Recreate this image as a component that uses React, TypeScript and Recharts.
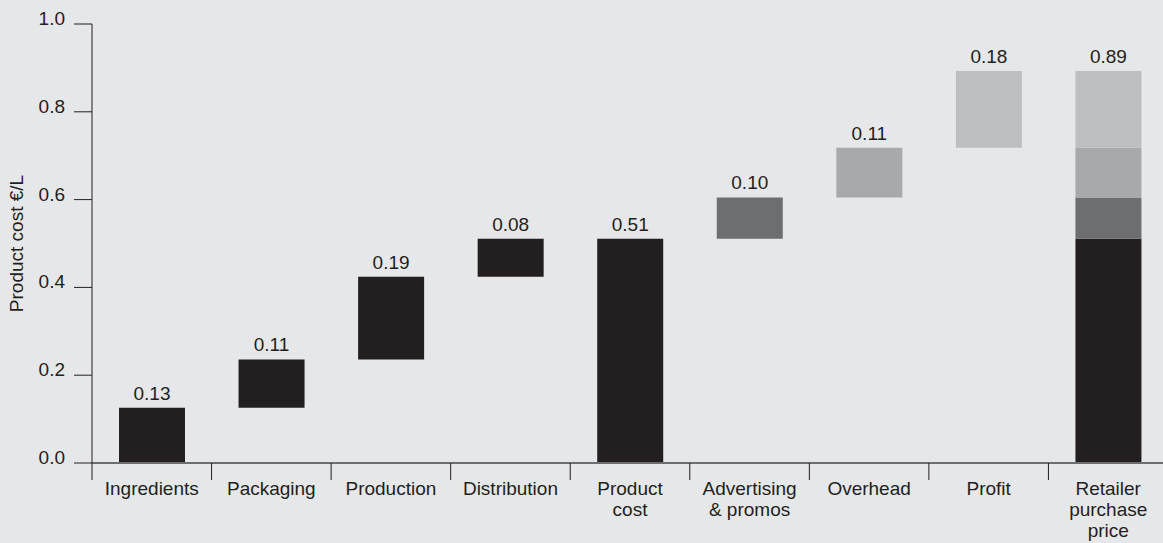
import React from 'react';
import { BarChart, Bar, XAxis, YAxis, Label, LabelList } from 'recharts';

const categoryLines = [
  ['Ingredients'],
  ['Packaging'],
  ['Production'],
  ['Distribution'],
  ['Product', 'cost'],
  ['Advertising', '& promos'],
  ['Overhead'],
  ['Profit'],
  ['Retailer', 'purchase', 'price'],
];
const categories = categoryLines.map((l) => l.join(' '));

// invisible offset under each floating step
const baseValues = [0, 0.126, 0.236, 0.424, 0, 0.511, 0.605, 0.718, 0];
const blackValues = [0.126, 0.11, 0.188, 0.087, 0.511, 0, 0, 0, 0.511];
const darkValues = [0, 0, 0, 0, 0, 0.094, 0, 0, 0.094];
const midValues = [0, 0, 0, 0, 0, 0, 0.113, 0, 0.113];
const lightValues = [0, 0, 0, 0, 0, 0, 0, 0.175, 0.175];
const valueLabels = ['0.13', '0.11', '0.19', '0.08', '0.51', '0.10', '0.11', '0.18', '0.89'];
const yTicks = [0, 0.2, 0.4, 0.6, 0.8, 1.0];

const INK = '#231f20';
const FONT = '"Liberation Sans", Arial, Helvetica, sans-serif';
const FS = 19;

const segments = [
  { key: 'black', fill: INK },
  { key: 'dark', fill: '#6d6e71' },
  { key: 'mid', fill: '#a7a9ac' },
  { key: 'light', fill: '#bcbec0' },
];

const data = categories.map((name, i) => {
  const row: any = {
    name,
    base: baseValues[i],
    black: blackValues[i],
    dark: darkValues[i],
    mid: midValues[i],
    light: lightValues[i],
    label: valueLabels[i],
  };
  // the label goes on the highest non-empty segment
  row.top = segments.filter((s) => row[s.key] > 0).map((s) => s.key).pop();
  return row;
});

const CHART_W = 1170;
const PLOT_LEFT = 92;
const PLOT_RIGHT = 1168;
const BAND = (PLOT_RIGHT - PLOT_LEFT) / categories.length;

function CategoryTick(props: any) {
  const { x, y, index } = props;
  const lines = categoryLines[index] || [];
  const left = x - BAND / 2;
  return (
    <g>
      <line x1={left} x2={left} y1={y} y2={y + 17} stroke={INK} strokeWidth={1} />
      <text x={x} y={y + 32} textAnchor="middle" fill={INK} fontSize={FS} fontFamily={FONT}>
        {lines.map((line, i) => (
          <tspan key={i} x={x} dy={i === 0 ? 0 : 21}>
            {line}
          </tspan>
        ))}
      </text>
    </g>
  );
}

function ValueTick(props: any) {
  const { y, payload } = props;
  return (
    <text x={65} y={y + 1} textAnchor="end" fill={INK} fontSize={FS} fontFamily={FONT}>
      {Number(payload.value).toFixed(1)}
    </text>
  );
}

const stepLabel = (key: string) => (props: any) => {
  const { x, y, width, height } = props;
  if (!height) return null;
  const cx = x + width / 2;
  // find the category from the bar's centre
  const row = data[Math.floor((cx - PLOT_LEFT) / BAND)];
  if (!row || row.top !== key) return null;
  return (
    <text x={cx} y={y - 8} textAnchor="middle" fill={INK} fontSize={FS} fontFamily={FONT}>
      {row.label}
    </text>
  );
};

function AxisTitle(props: any) {
  const { viewBox } = props;
  const cy = viewBox.y + viewBox.height / 2;
  return (
    <text
      x={16}
      y={cy}
      transform={`rotate(-90, 16, ${cy})`}
      textAnchor="middle"
      dominantBaseline="central"
      fill={INK}
      fontSize={FS}
      fontFamily={FONT}
    >
      Product cost €/L
    </text>
  );
}

export default function App() {
  return (
    <div
      style={{
        position: 'absolute',
        left: 0,
        top: 0,
        width: 1163,
        height: 543,
        overflow: 'hidden',
        background: '#e6e7e8',
      }}
    >
      <BarChart
        width={CHART_W}
        height={543}
        data={data}
        margin={{ top: 24, right: CHART_W - PLOT_RIGHT, left: 0, bottom: 0 }}
        barSize={66}
      >
        <XAxis
          dataKey="name"
          height={80}
          interval={0}
          tickLine={false}
          tickSize={0}
          tickMargin={0}
          axisLine={{ stroke: '#6d6e71', strokeWidth: 2 }}
          tick={<CategoryTick />}
        />
        <YAxis
          width={PLOT_LEFT}
          domain={[0, 1]}
          ticks={yTicks}
          tickSize={18}
          axisLine={{ stroke: INK, strokeWidth: 1 }}
          tickLine={{ stroke: INK, strokeWidth: 1 }}
          tick={<ValueTick />}
        >
          <Label content={<AxisTitle />} />
        </YAxis>
        <Bar dataKey="base" stackId="w" fill="transparent" isAnimationActive={false} />
        {segments.map((s) => (
          <Bar key={s.key} dataKey={s.key} stackId="w" fill={s.fill} isAnimationActive={false}>
            <LabelList dataKey="label" content={stepLabel(s.key)} />
          </Bar>
        ))}
      </BarChart>
    </div>
  );
}
